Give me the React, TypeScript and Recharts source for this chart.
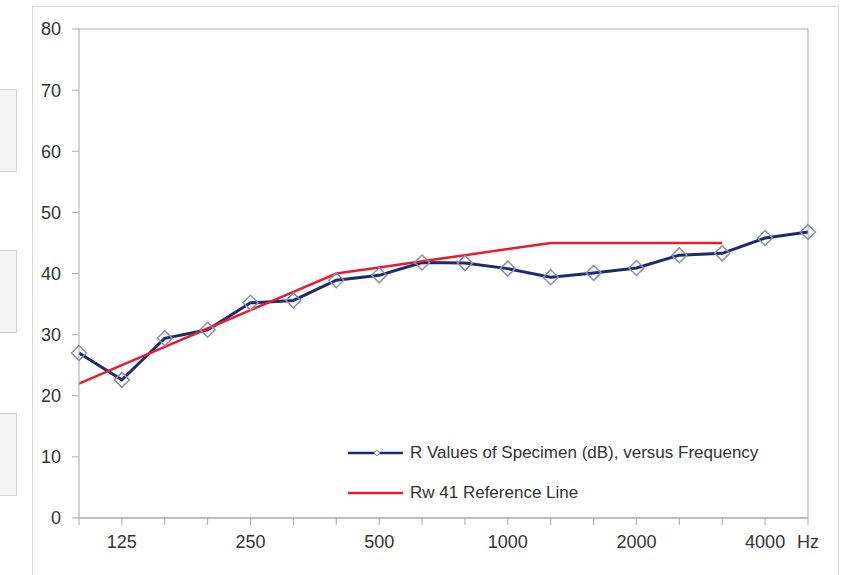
import { LineChart, Line, XAxis, YAxis, CartesianGrid } from "recharts";

// one-third octave band centre frequencies (Hz)
const FREQUENCIES = ["100", "125", "160", "200", "250", "315", "400", "500", "630", "800", "1000", "1250", "1600", "2000", "2500", "3150", "4000", "5000"];

// only the octave bands get a label, last slot carries the unit
const TICK_LABELS = ["", "125", "", "", "250", "", "", "500", "", "", "1000", "", "", "2000", "", "", "4000", "Hz"];

const R_VALUES = [27.0, 22.6, 29.4, 30.8, 35.2, 35.6, 38.9, 39.7, 41.8, 41.7, 40.8, 39.4, 40.1, 40.9, 43.0, 43.3, 45.8, 46.8];

// ISO 717-1 reference curve shifted to Rw 41 (100 - 3150 Hz)
const REFERENCE_VALUES = [22, 25, 28, 31, 34, 37, 40, 41, 42, 43, 44, 45, 45, 45, 45, 45, null, null];

const Y_TICKS = [0, 10, 20, 30, 40, 50, 60, 70, 80];

const NAVY = "#1f2a6e";
const RED = "#e41e2e";
const GRID = "#a8a8a8";
const TEXT = "#333333";
const FONT = "'Liberation Sans', Arial, sans-serif";

const chartData = FREQUENCIES.map((f, i) => ({
  freq: f,
  r: R_VALUES[i],
  ref: REFERENCE_VALUES[i],
}));

function Diamond(props: any) {
  const { cx, cy } = props;
  if (cx == null || cy == null) return null;
  const s = 7.5;
  return (
    <path
      d={`M${cx},${cy - s} L${cx + s},${cy} L${cx},${cy + s} L${cx - s},${cy} Z`}
      fill="none"
      stroke="#8a90b2"
      strokeWidth={1.5}
    />
  );
}

function LegendBox() {
  const row = (color: string, label: string, marker: boolean) => (
    <div style={{ display: "flex", alignItems: "center", height: 40 }}>
      <svg width={70} height={20} style={{ flex: "none" }}>
        <line x1={8} y1={10} x2={63} y2={10} stroke={color} strokeWidth={2.5} />
        {marker && <path d="M37,7 L40,10 L37,13 L34,10 Z" fill="#fff" stroke="#8a90b2" strokeWidth={1} />}
      </svg>
      <span style={{ fontSize: 17, color: TEXT, fontFamily: FONT, whiteSpace: "nowrap" }}>{label}</span>
    </div>
  );
  return (
    <div
      style={{
        position: "absolute",
        left: 340,
        top: 428,
        width: 437,
        height: 78,
        background: "#fff",
        paddingTop: 5,
        boxSizing: "border-box",
      }}
    >
      {row(NAVY, "R Values of Specimen (dB), versus Frequency", true)}
      {row(RED, "Rw 41 Reference Line", false)}
    </div>
  );
}

const sideBox = (top: number) => (
  <div
    style={{
      position: "absolute",
      left: 0,
      top,
      width: 16,
      height: 81,
      background: "#f3f3f3",
      border: "1px solid #cfcfcf",
      borderLeft: "none",
    }}
  />
);

export default function App() {
  return (
    <div style={{ position: "absolute", left: 0, top: 0, width: 845, height: 575, background: "#fff", overflow: "hidden" }}>
      {sideBox(89)}
      {sideBox(250)}
      {sideBox(413)}
      <div
        style={{
          position: "absolute",
          left: 32,
          top: 6,
          width: 805,
          height: 620,
          border: "1px solid #d8d8d8",
        }}
      />
      <div style={{ position: "absolute", left: 0, top: 0 }}>
        <LineChart
          width={845}
          height={575}
          data={chartData}
          margin={{ top: 29, right: 0, bottom: 27, left: 0 }}
          style={{ fontFamily: FONT }}
        >
          <CartesianGrid vertical={false} stroke={GRID} strokeWidth={1} />
          <XAxis
            dataKey="freq"
            interval={0}
            height={30}
            tickFormatter={(_v: string, i: number) => TICK_LABELS[i]}
            tick={{ fontSize: 18, fill: TEXT }}
            tickLine={{ stroke: GRID }}
            axisLine={{ stroke: GRID }}
            tickSize={7}
            tickMargin={10}
          />
          <YAxis
            yAxisId="left"
            domain={[0, 80]}
            ticks={Y_TICKS}
            width={79}
            tick={{ fontSize: 18, fill: TEXT }}
            tickLine={{ stroke: GRID }}
            axisLine={{ stroke: GRID }}
            tickSize={7}
            tickMargin={11}
          />
          <YAxis
            yAxisId="right"
            orientation="right"
            domain={[0, 80]}
            width={37}
            tick={false}
            tickLine={false}
            axisLine={{ stroke: GRID }}
          />
          <Line
            yAxisId="left"
            dataKey="r"
            stroke={NAVY}
            strokeWidth={3}
            dot={<Diamond />}
            activeDot={false}
            isAnimationActive={false}
          />
          <Line
            yAxisId="left"
            dataKey="ref"
            stroke={RED}
            strokeWidth={2.5}
            dot={false}
            activeDot={false}
            isAnimationActive={false}
          />
        </LineChart>
      </div>
      <LegendBox />
    </div>
  );
}
